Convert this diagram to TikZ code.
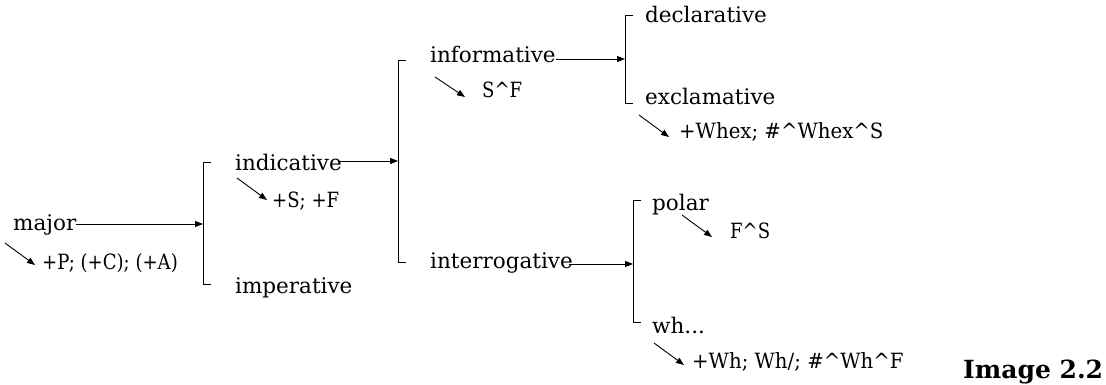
\documentclass[tikz,border=0pt]{standalone}
\usepackage{fontspec}
\setmainfont{DejaVu Serif}
\newfontfamily\narrowserif[FakeStretch=0.94]{DejaVu Serif}
\newfontfamily\narrowerserif[FakeStretch=0.86]{DejaVu Serif}
\usetikzlibrary{arrows.meta}
\begin{document}
\begin{tikzpicture}[x=1pt,y=-1pt,
  lbl/.style={anchor=mid west, inner sep=0pt, font=\fontsize{21.5}{25}\selectfont},
  sym/.style={anchor=mid west, inner sep=0pt, font=\fontsize{21}{25}\selectfont\narrowserif},
  symn/.style={anchor=mid west, inner sep=0pt, font=\fontsize{21}{25}\selectfont\narrowerserif},
  con/.style={line width=0.9pt, -{Triangle[length=8pt,width=6pt]}},
  brk/.style={line width=0.9pt}]
\useasboundingbox (0,0) rectangle (1106,385);
% labels
\node[lbl] (major) at (13,228) {major};
\node[symn] (pca) at (42,267) {+P; (+C); (+A)};
\node[lbl] (ind) at (235,168) {indicative};
\node[symn] (sf1) at (272,205) {+S; +F};
\node[lbl] (imp) at (235,291) {imperative};
\node[lbl] (inf) at (430,60) {informative};
\node[symn] (sf2) at (482,95) {S\^{}F};
\node[lbl] (intr) at (430,266) {interrogative};
\node[lbl] (decl) at (645,20) {declarative};
\node[lbl] (excl) at (645,102) {exclamative};
\node[sym] (whex) at (679,136) {+Whex; \#\^{}Whex\^{}S};
\node[lbl] (pol) at (652,208) {polar};
\node[symn] (fs) at (730,236) {F\^{}S};
\node[lbl] (wh) at (652,331) {wh...};
\node[sym] (whl) at (692,366) {+Wh; Wh/; \#\^{}Wh\^{}F};
\node[anchor=base west, inner sep=0pt, font=\fontsize{25}{28}\selectfont\bfseries] (cap) at (963,378) {Image 2.2};
% brackets
\coordinate (b1t) at (203,162); \coordinate (b1b) at (203,284); \coordinate (b1m) at (203,224);
\coordinate (b2t) at (398,60);  \coordinate (b2b) at (398,262); \coordinate (b2m) at (398,161);
\coordinate (b3t) at (625,15);  \coordinate (b3b) at (625,103); \coordinate (b3m) at (625,59);
\coordinate (b4t) at (633,200); \coordinate (b4b) at (633,322); \coordinate (b4m) at (633,264);
\foreach \b in {b1,b2,b3,b4}{
  \draw[brk] ([xshift=8pt]\b t) -- (\b t) -- (\b b) -- ([xshift=8pt]\b b);
}
% main arrows
\draw[con] (major.east |- b1m) -- (b1m);
\draw[con] ([xshift=-3pt]ind.east |- b2m) -- (b2m);
\draw[con] (inf.east |- b3m) -- (b3m);
\draw[con] ([xshift=-4pt]intr.east |- b4m) -- (b4m);
% diagonal arrows
\coordinate (d1s) at (5,243);   \coordinate (d1e) at (35,265);
\coordinate (d2s) at (237,178); \coordinate (d2e) at (267,200);
\coordinate (d3s) at (435,77);  \coordinate (d3e) at (465,97);
\coordinate (d4s) at (639,115); \coordinate (d4e) at (669,137);
\coordinate (d5s) at (682,215); \coordinate (d5e) at (712,237);
\coordinate (d6s) at (654,343); \coordinate (d6e) at (684,365);
\foreach \d in {d1,d2,d3,d4,d5,d6}{
  \draw[con] (\d s) -- (\d e);
}
\end{tikzpicture}
\end{document}
